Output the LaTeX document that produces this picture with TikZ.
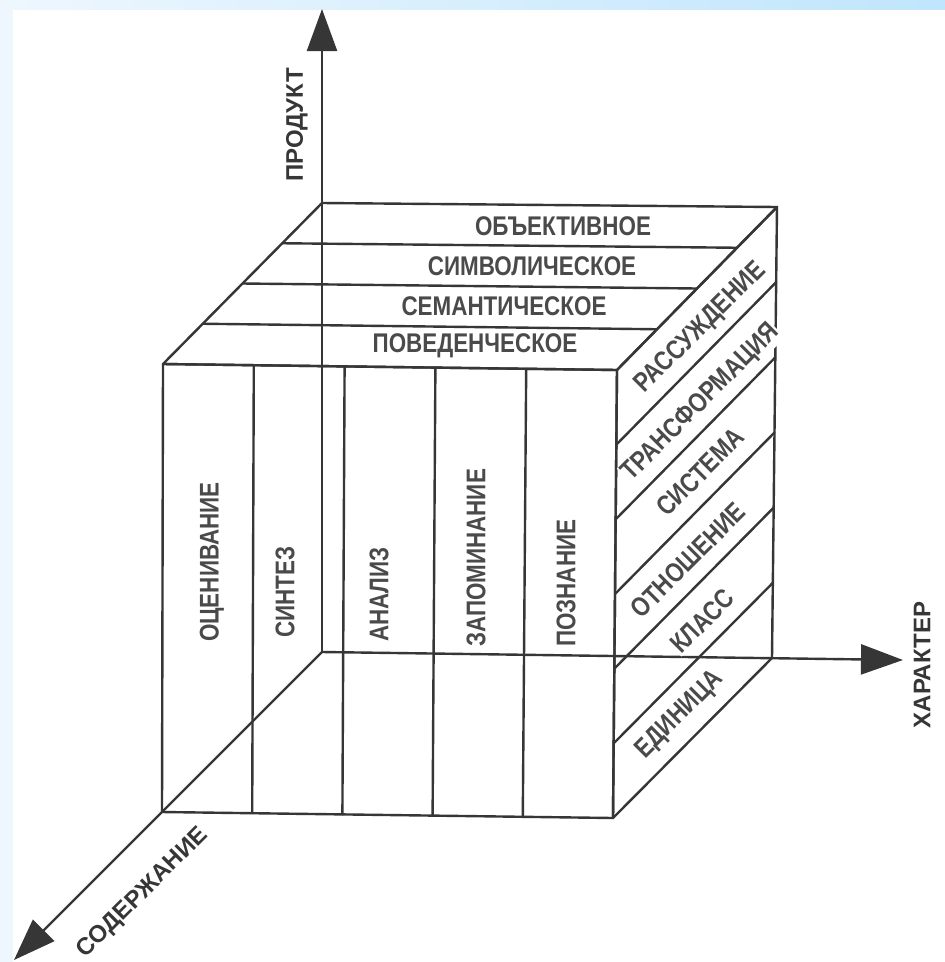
\documentclass[tikz,border=0pt]{standalone}
\usepackage{fontspec}
\setmainfont{Liberation Sans}[FakeStretch=0.83]
\newfontfamily\axfont{Liberation Sans}
\usetikzlibrary{arrows.meta,calc}
\definecolor{ink}{HTML}{363636}
\definecolor{txt}{HTML}{4A4A4A}
\definecolor{bgA}{HTML}{EEF7FE}
\definecolor{bgB}{HTML}{C0E5FC}
\tikzset{
  edge/.style={draw=ink, line width=2.4pt, line cap=round, line join=round},
  lbl/.style={text=txt, font=\bfseries\fontsize{27}{29}\selectfont, inner sep=1pt},
  lblw/.style={lbl, fill=white},
  axlbl/.style={text=ink, font=\axfont\bfseries\fontsize{24}{26}\selectfont, inner sep=1pt},
  axisline/.style={edge, -{Triangle[length=42pt,width=30pt]}},
}
\begin{document}
\begin{tikzpicture}[x=1pt,y=-1pt]
\useasboundingbox (0,0) rectangle (945,962);
\fill[white] (0,0) rectangle (945,962);
\fill[bgA] (0,0) rectangle (13,962);
\shade[left color=bgA, right color=bgB] (0,0) rectangle (945,9);
% cube corners
\coordinate (FTL) at (163,364);
\coordinate (FTR) at (617,370);
\coordinate (FBL) at (162,812);
\coordinate (FBR) at (613,818);
\coordinate (BTL) at (322,203);
\coordinate (BTR) at (777,207);
\coordinate (BBL) at (322,652);
\coordinate (BBR) at (772,658);
% axis tips
\coordinate (Ptip) at (322,9);
\coordinate (Htip) at (903,660);
\coordinate (Stip) at (14,960);
% top face
\draw[edge] (FTL) -- (FTR) -- (BTR) -- (BTL) -- cycle;
\foreach \k in {1,2,3} \draw[edge] ($(BTL)!\k/4!(FTL)$) -- ($(BTR)!\k/4!(FTR)$);
% front face
\draw[edge] (FTL) -- (FTR) -- (FBR) -- (FBL) -- cycle;
\foreach \k in {1,2,3,4} \draw[edge] ($(FTL)!\k/5!(FTR)$) -- ($(FBL)!\k/5!(FBR)$);
% right face
\draw[edge] (FTR) -- (BTR) -- (BBR) -- (FBR) -- cycle;
\foreach \k in {1,...,5} \draw[edge] ($(FTR)!\k/6!(FBR)$) -- ($(BTR)!\k/6!(BBR)$);
% axes
\draw[axisline] (BBL) -- (Ptip);
\draw[axisline] (BBL) -- (Htip);
\draw[axisline] (BBL) -- (Stip);
% top labels
\node[lbl] (t1) at (563,226) {ОБЪЕКТИВНОЕ};
\node[lbl] (t2) at (532,266) {СИМВОЛИЧЕСКОЕ};
\node[lbl] (t3) at (504,306) {СЕМАНТИЧЕСКОЕ};
\node[lbl] (t4) at (475,346) {ПОВЕДЕНЧЕСКОЕ};
% front labels
\node[lbl, rotate=90, anchor=west] (f1) at (212,643) {ОЦЕНИВАНИЕ};
\node[lbl, rotate=90, anchor=west] (f2) at (285,639) {СИНТЕЗ};
\node[lbl, rotate=90, anchor=west] (f3) at (379,643) {АНАЛИЗ};
\node[lbl, rotate=90, anchor=west] (f4) at (476,648) {ЗАПОМИНАНИЕ};
\node[lbl, rotate=90, anchor=west] (f5) at (566,648) {ПОЗНАНИЕ};
% right labels
\node[lblw, rotate=45] (r1) at (701,328) {РАССУЖДЕНИЕ};
\node[lblw, rotate=45] (r2) at (701,403) {ТРАНСФОРМАЦИЯ};
\node[lblw, rotate=45] (r3) at (700,472) {СИСТЕМА};
\node[lblw, rotate=45] (r4) at (688,560) {ОТНОШЕНИЕ};
\node[lblw, rotate=45] (r5) at (702,621) {КЛАСС};
\node[lblw, rotate=45] (r6) at (680,715) {ЕДИНИЦА};
% axis labels
\node[axlbl, rotate=90] (pl) at (297,125) {ПРОДУКТ};
\node[axlbl, rotate=90] (hl) at (922,665) {ХАРАКТЕР};
\node[axlbl, rotate=45] (sl) at (143,893) {СОДЕРЖАНИЕ};
\end{tikzpicture}
\end{document}
